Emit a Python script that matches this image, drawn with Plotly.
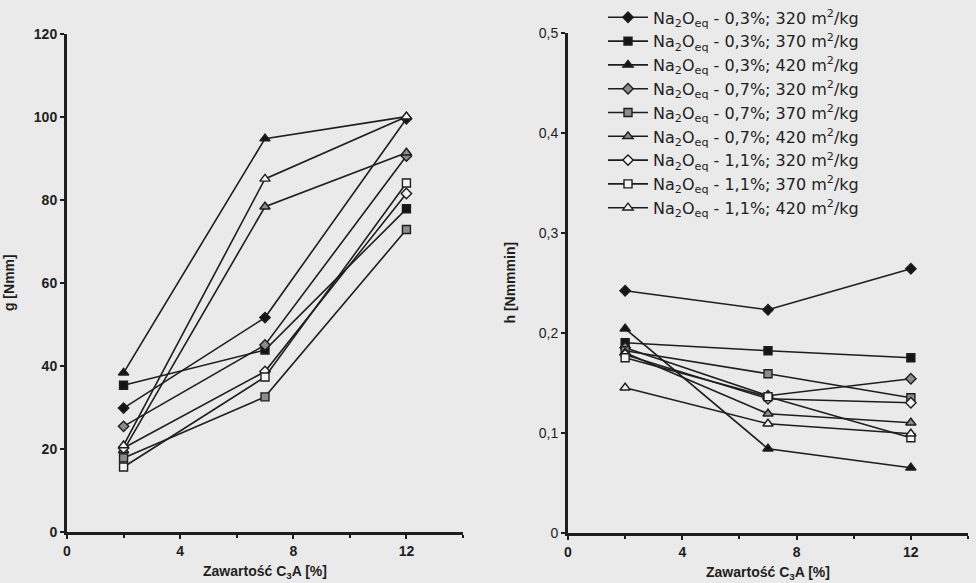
import plotly.graph_objects as go

# C3A content in cement [%]
c3a = [2, 7, 12]

series_names = [
    "Na<sub>2</sub>O<sub>eq</sub> - 0,3%; 320 m<sup>2</sup>/kg",
    "Na<sub>2</sub>O<sub>eq</sub> - 0,3%; 370 m<sup>2</sup>/kg",
    "Na<sub>2</sub>O<sub>eq</sub> - 0,3%; 420 m<sup>2</sup>/kg",
    "Na<sub>2</sub>O<sub>eq</sub> - 0,7%; 320 m<sup>2</sup>/kg",
    "Na<sub>2</sub>O<sub>eq</sub> - 0,7%; 370 m<sup>2</sup>/kg",
    "Na<sub>2</sub>O<sub>eq</sub> - 0,7%; 420 m<sup>2</sup>/kg",
    "Na<sub>2</sub>O<sub>eq</sub> - 1,1%; 320 m<sup>2</sup>/kg",
    "Na<sub>2</sub>O<sub>eq</sub> - 1,1%; 370 m<sup>2</sup>/kg",
    "Na<sub>2</sub>O<sub>eq</sub> - 1,1%; 420 m<sup>2</sup>/kg",
]

# g [Nmm]
g_na03_320 = [29.8, 51.6, 99.5]
g_na03_370 = [35.3, 43.8, 77.8]
g_na03_420 = [38.3, 94.7, 100.0]
g_na07_320 = [25.4, 45.0, 90.5]
g_na07_370 = [17.8, 32.5, 72.8]
g_na07_420 = [19.6, 78.3, 91.3]
g_na11_320 = [20.2, 38.6, 81.5]
g_na11_370 = [15.6, 37.3, 84.0]
g_na11_420 = [20.8, 85.0, 100.0]

# h [Nmmmin]
h_na03_320 = [0.242, 0.223, 0.264]
h_na03_370 = [0.190, 0.182, 0.175]
h_na03_420 = [0.204, 0.084, 0.065]
h_na07_320 = [0.185, 0.137, 0.154]
h_na07_370 = [0.182, 0.159, 0.135]
h_na07_420 = [0.180, 0.119, 0.110]
h_na11_320 = [0.178, 0.134, 0.130]
h_na11_370 = [0.175, 0.136, 0.095]
h_na11_420 = [0.145, 0.109, 0.099]

g_series = [g_na03_320, g_na03_370, g_na03_420, g_na07_320, g_na07_370,
            g_na07_420, g_na11_320, g_na11_370, g_na11_420]
h_series = [h_na03_320, h_na03_370, h_na03_420, h_na07_320, h_na07_370,
            h_na07_420, h_na11_320, h_na11_370, h_na11_420]

x_tick_vals = [0, 4, 8, 12]
g_tick_vals = [0, 20, 40, 60, 80, 100, 120]
h_tick_vals = [0, 0.1, 0.2, 0.3, 0.4, 0.5]
h_tick_text = ["0", "0,1", "0,2", "0,3", "0,4", "0,5"]

symbols = ["diamond", "square", "triangle-up"] * 3
fills = ["#151515"] * 3 + ["#8c8c8c"] * 3 + ["#f4f4f4"] * 3
sizes = [8, 8, 9] * 3

BG = "#eaeaea"
INK = "#1e1e1e"
FONT = "Liberation Sans, Arial, sans-serif"

fig = go.Figure()

for i, name in enumerate(series_names):
    common = dict(
        mode="lines+markers",
        line=dict(color=INK, width=1.6),
        marker=dict(symbol=symbols[i], size=sizes[i], color=fills[i],
                    line=dict(color=INK, width=1.4)),
        name=name,
    )
    fig.add_trace(go.Scatter(x=c3a, y=g_series[i], xaxis="x", yaxis="y",
                             showlegend=False, **common))
    fig.add_trace(go.Scatter(x=c3a, y=h_series[i], xaxis="x2", yaxis="y2",
                             showlegend=True, **common))

axis_common = dict(
    showgrid=False, zeroline=False, showline=True, linecolor=INK,
    linewidth=3, ticks="outside", tickcolor=INK, ticklen=4, tickwidth=1.5,
    automargin=False,
    tickfont=dict(family=FONT, size=14, color=INK),
)

x_common = dict(axis_common, range=[0, 14], tickvals=x_tick_vals,
                minor=dict(dtick=2, ticks="outside", ticklen=3, tickcolor=INK),
                title=dict(text="<b>Zawartość C<sub>3</sub>A [%]</b>",
                           font=dict(family=FONT, size=14, color=INK), standoff=9))

fig.update_layout(
    width=976, height=583,
    margin=dict(l=0, r=0, t=0, b=0),
    paper_bgcolor=BG, plot_bgcolor=BG,
    font=dict(family=FONT, color=INK),
    xaxis=dict(x_common, domain=[67 / 976, 463 / 976], anchor="y",
               tickfont=dict(family=FONT, size=14, color=INK, weight="bold")),
    yaxis=dict(axis_common, domain=[52 / 583, 558 / 583], anchor="x",
               range=[0, 120], tickvals=g_tick_vals,
               tickfont=dict(family=FONT, size=14, color=INK, weight="bold"),
               title=dict(text="<b>g [Nmm]</b>", standoff=16,
                          font=dict(family=FONT, size=14, color=INK))),
    xaxis2=dict(x_common, domain=[568 / 976, 968 / 976], anchor="y2",
                tickfont=dict(family=FONT, size=14, color=INK, weight="bold")),
    yaxis2=dict(axis_common, domain=[51 / 583, 559 / 583], anchor="x2",
                range=[0, 0.5], tickvals=h_tick_vals, ticktext=h_tick_text,
                title=dict(text="<b>h [Nmmmin]</b>", standoff=20,
                           font=dict(family=FONT, size=14, color=INK))),
    legend=dict(
        x=603 / 976, y=1.015, xanchor="left", yanchor="top",
        bgcolor="rgba(0,0,0,0)", borderwidth=0,
        font=dict(family="DejaVu Sans, sans-serif", size=16, color=INK),
        tracegroupgap=0, itemwidth=40,
    ),
)

fig.write_html("out.html")
